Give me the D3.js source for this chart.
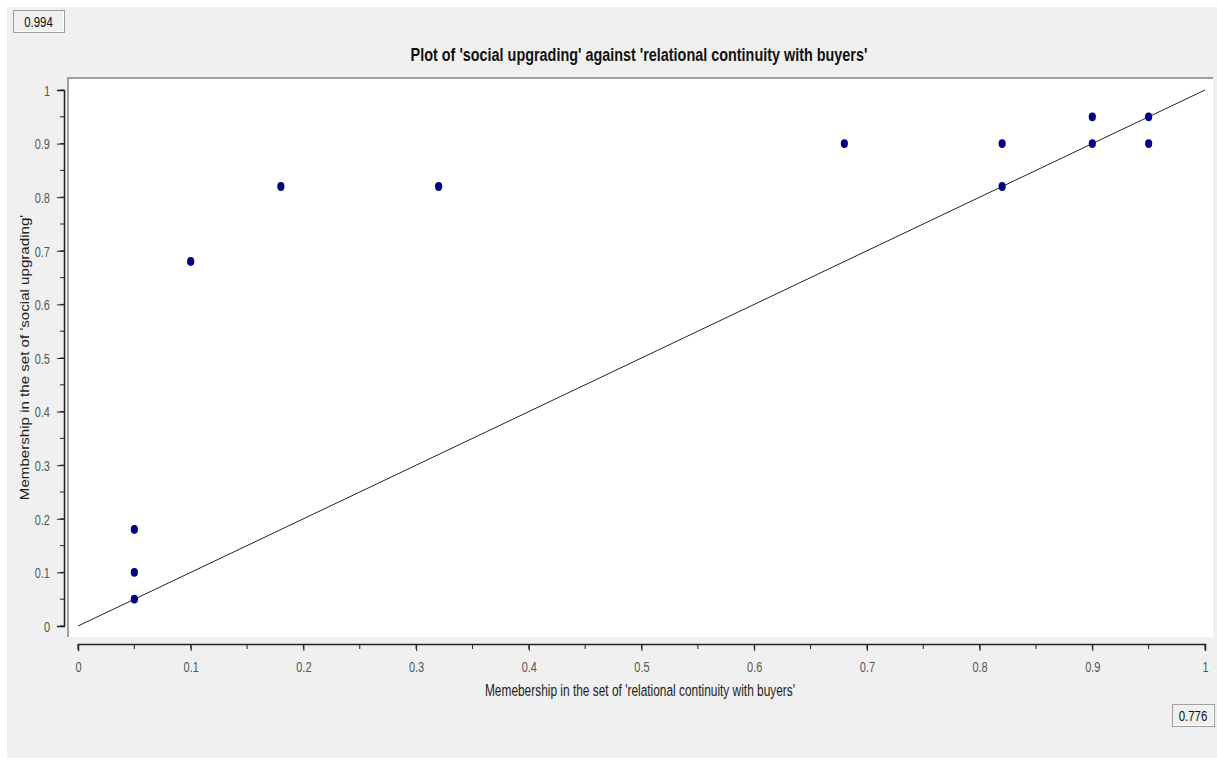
<!DOCTYPE html>
<html>
<head>
<meta charset="utf-8">
<script src="https://cdn.jsdelivr.net/npm/d3@7"></script>
<style>
  body { margin: 0; background: #ffffff; }
  svg text { font-family: "Liberation Sans", Arial, sans-serif; }
</style>
</head>
<body>
<div id="chart"></div>
<script>
// membership scores
const xValues = [0.05, 0.05, 0.05, 0.10, 0.18, 0.32, 0.68, 0.82, 0.82, 0.90, 0.90, 0.95, 0.95];
const yValues = [0.05, 0.10, 0.18, 0.68, 0.82, 0.82, 0.90, 0.90, 0.82, 0.95, 0.90, 0.95, 0.90];
const tickValues = [0, 0.1, 0.2, 0.3, 0.4, 0.5, 0.6, 0.7, 0.8, 0.9, 1];
const minorTicks = d3.range(0, 1.0001, 0.05);
const title = "Plot of 'social upgrading' against 'relational continuity with buyers'";
const xTitle = "Memebership in the set of 'relational continuity with buyers'";
const yTitle = "Membership in the set of 'social upgrading'";
const topBox = "0.994";
const bottomBox = "0.776";

const width = 1217, height = 759;
const stretch = 1.33; // screenshot text looks stretched vertically

const svg = d3.select("#chart")
    .append("svg")
    .attr("width", width)
    .attr("height", height);

// gray window background
svg.append("rect")
    .attr("x", 7).attr("y", 7)
    .attr("width", width - 7).attr("height", height - 8)
    .attr("fill", "#f0f0f0");

var x = d3.scaleLinear().domain([0, 1]).range([78, 1205]),
    y = d3.scaleLinear().domain([0, 1]).range([626, 90]);

// plot panel
svg.append("rect")
    .attr("x", 67).attr("y", 77)
    .attr("width", 1213 - 67).attr("height", 637 - 77)
    .attr("fill", "#ffffff");
svg.append("path")
    .attr("d", "M68,637 V78 H1213")
    .attr("fill", "none")
    .attr("stroke", "#a0a0a0")
    .attr("stroke-width", 2);

svg.append("text")
    .attr("transform", "translate(639,60.5) scale(1," + stretch + ")")
    .attr("text-anchor", "middle")
    .style("font-size", "14.4px")
    .style("font-weight", "bold")
    .attr("fill", "#111")
    .text(title);

// y axis
var yAxis = svg.append("g")
    .attr("transform", "translate(64,0)")
    .attr("color", "#222")
    .call(d3.axisLeft(y).tickValues(tickValues).tickFormat(d3.format("~g")).tickSizeOuter(0).tickSize(7));
yAxis.selectAll(".tick text")
    .attr("x", 0).attr("dy", null)
    .attr("transform", "translate(-14,5.3) scale(1," + stretch + ")")
    .style("font-size", "11px")
    .attr("fill", "#555");
yAxis.selectAll("line.minor")
    .data(minorTicks).enter().append("line")
    .attr("class", "minor")
    .attr("x1", -4).attr("x2", 0)
    .attr("y1", function (d) { return y(d); })
    .attr("y2", function (d) { return y(d); })
    .attr("stroke", "#222");
yAxis.select(".domain").attr("stroke-width", 1.5);

// x axis
var xAxis = svg.append("g")
    .attr("transform", "translate(0,644)")
    .attr("color", "#222")
    .call(d3.axisBottom(x).tickValues(tickValues).tickFormat(d3.format("~g")).tickSizeOuter(0).tickSize(7));
xAxis.selectAll(".tick text")
    .attr("y", 0).attr("dy", null)
    .attr("transform", "translate(0,28) scale(1," + stretch + ")")
    .style("font-size", "11px")
    .attr("fill", "#555");
xAxis.selectAll("line.minor")
    .data(minorTicks).enter().append("line")
    .attr("class", "minor")
    .attr("y1", 0).attr("y2", 5)
    .attr("x1", function (d) { return x(d); })
    .attr("x2", function (d) { return x(d); })
    .attr("stroke", "#222");
xAxis.select(".domain").attr("stroke-width", 1.5);

svg.append("text")
    .attr("transform", "translate(640,695.5) scale(1," + stretch + ")")
    .attr("text-anchor", "middle")
    .style("font-size", "11.9px")
    .attr("fill", "#222")
    .text(xTitle);

svg.append("text")
    .attr("transform", "translate(28.5,357.5) rotate(-90) scale(1.27,1)")
    .attr("text-anchor", "middle")
    .style("font-size", "11.9px")
    .attr("fill", "#222")
    .text(yTitle);

// diagonal reference line
svg.append("line")
    .attr("x1", x(0)).attr("y1", y(0))
    .attr("x2", x(1)).attr("y2", y(1))
    .attr("stroke", "#222")
    .attr("stroke-width", 1);

svg.selectAll(".dot")
    .data(xValues.map(function (d, i) { return { x: d, y: yValues[i] }; }))
    .enter().append("ellipse")
    .attr("class", "dot")
    .attr("cx", function (d) { return x(d.x); })
    .attr("cy", function (d) { return y(d.y); })
    .attr("rx", 3.6)
    .attr("ry", 4.4)
    .attr("fill", "#000080");

// value boxes
function valueBox(bx, by, bw, bh, label) {
    svg.append("rect")
        .attr("x", bx + 0.5).attr("y", by + 0.5)
        .attr("width", bw).attr("height", bh)
        .attr("fill", "#f0f0f0")
        .attr("stroke", "#a0a0a0");
    svg.append("path")
        .attr("d", "M" + (bx + 1.5) + "," + (by + bh - 0.5) + " H" + (bx + bw - 0.5) + " V" + (by + 1.5))
        .attr("fill", "none")
        .attr("stroke", "#ffffff");
    svg.append("text")
        .attr("transform", "translate(" + (bx + bw / 2) + "," + (by + bh / 2 + 5.5) + ") scale(1,1.2)")
        .attr("text-anchor", "middle")
        .style("font-size", "11.5px")
        .attr("fill", "#111")
        .text(label);
}
valueBox(13, 10, 51, 22, topBox);
valueBox(1172, 704, 42, 22, bottomBox);
</script>
</body>
</html>
